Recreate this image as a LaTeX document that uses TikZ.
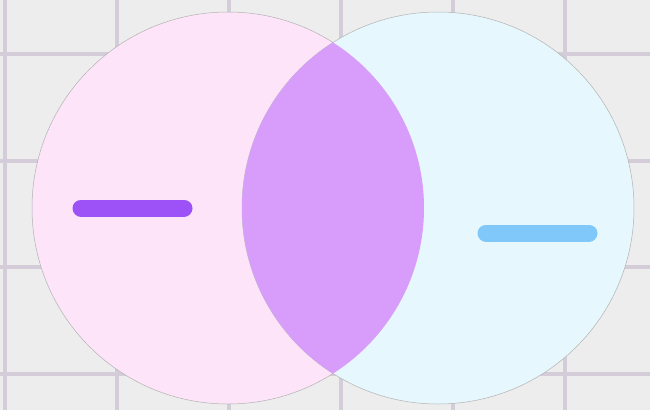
\documentclass[tikz,border=0pt]{standalone}
\definecolor{paper}{HTML}{EEEDEE}
\definecolor{gridline}{HTML}{D5CCD9}
\definecolor{pinkset}{HTML}{FDE4F8}
\definecolor{cyanset}{HTML}{E6F8FD}
\definecolor{lensfill}{HTML}{D89CFB}
\definecolor{violetbar}{HTML}{9C52F6}
\definecolor{bluebar}{HTML}{80C8FA}
\tikzset{
  gridrule/.style={gridline,line width=4pt},
  setdisc/.style={draw=black!30,line width=.5pt},
  signbar/.style={line width=17pt,line cap=round}
}
\begin{document}
\begin{tikzpicture}[x=1pt,y=-1pt]
\useasboundingbox (0,0) rectangle (650,410);
\fill[paper] (0,0) rectangle (650,410);
% grid
\foreach \gx in {5,117,229,341,453,565}
  \draw[gridrule] (\gx,0) -- (\gx,410);
\foreach \gy in {54,160.5,267,373.5}
  \draw[gridrule] (0,\gy) -- (650,\gy);
% the two sets
\path[setdisc,fill=pinkset] (228,208) circle[radius=196];
\path[setdisc,fill=cyanset] (438,208) circle[radius=196];
% overlap
\begin{scope}
  \clip (228,208) circle[radius=196];
  \fill[lensfill] (438,208) circle[radius=196];
\end{scope}
% minus signs
\draw[signbar,violetbar] (81,208) -- (184,208);
\draw[signbar,bluebar] (486,233) -- (589,233);
\end{tikzpicture}
\end{document}
